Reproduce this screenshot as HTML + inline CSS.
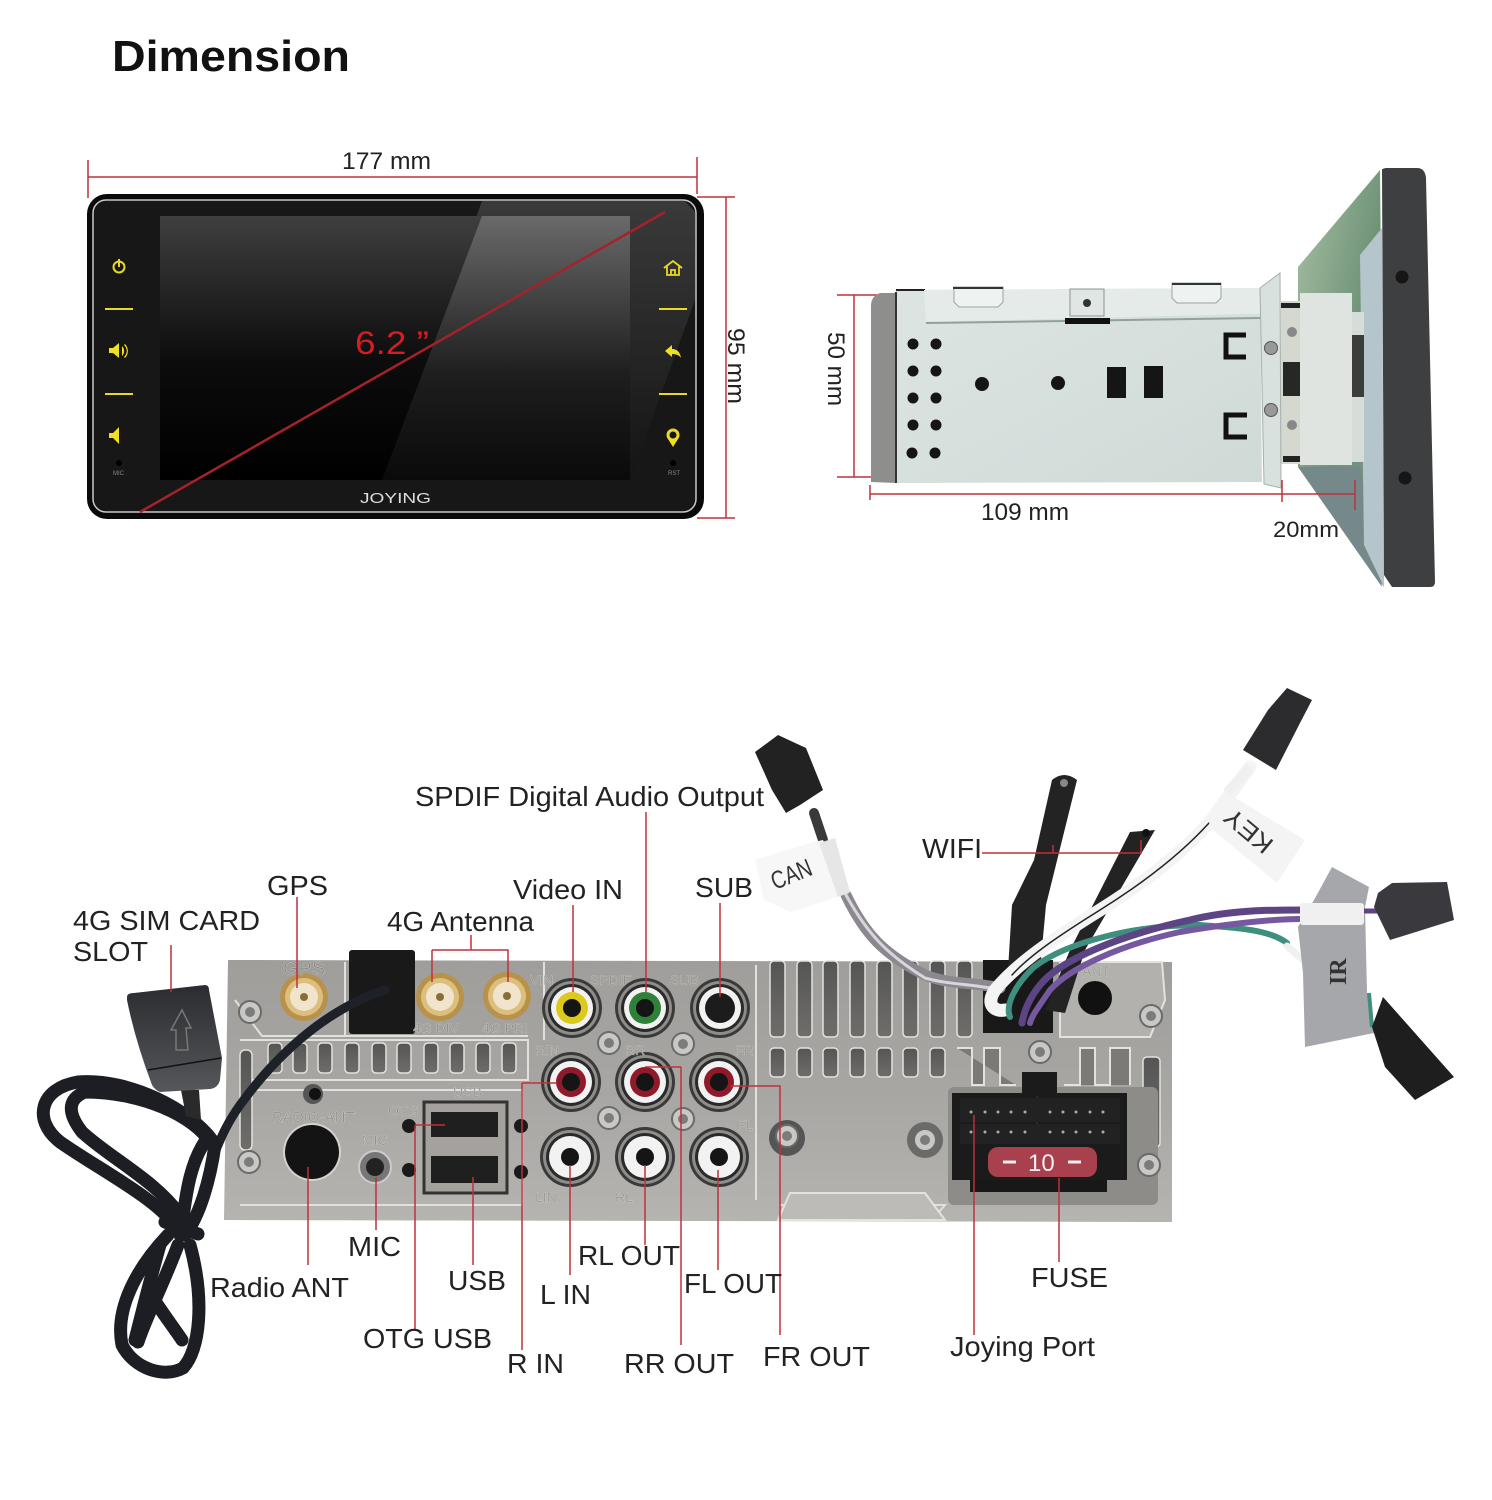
<!DOCTYPE html>
<html><head><meta charset="utf-8"><style>
html,body{margin:0;padding:0;background:#fff}
svg{display:block}
text{font-family:"Liberation Sans",sans-serif;fill:#222}
.l{font-size:28px}
.d{font-size:24px}
.r{stroke:#c0303c;stroke-width:1.5;fill:none}
.w{fill:none;stroke-linecap:round;stroke-linejoin:round}
.p{font-size:14px;fill:#8c8a86;stroke:#dedcd8;stroke-width:.3}
.s{fill:url(#slot);stroke:#e4e2de;stroke-width:1.5}
</style></head><body>
<svg xmlns="http://www.w3.org/2000/svg" width="1492" height="1500" viewBox="0 0 1492 1500">
<defs>
<linearGradient id="lcd" x1="0" y1="0" x2="0" y2="1"><stop offset="0" stop-color="#3f3f3f"/><stop offset=".55" stop-color="#0c0c0c"/><stop offset="1" stop-color="#000"/></linearGradient>
<linearGradient id="glare" x1="0" y1="0" x2="0" y2="1"><stop offset="0" stop-color="#6a6a6a"/><stop offset=".6" stop-color="#1e1e1e"/><stop offset="1" stop-color="#0a0a0a"/></linearGradient>
<linearGradient id="bez" x1="0" y1="0" x2="0" y2="1"><stop offset="0" stop-color="#3a3a3a"/><stop offset="1" stop-color="#141414"/></linearGradient>
<linearGradient id="panel" x1="0" y1="0" x2="0" y2="1"><stop offset="0" stop-color="#a09e9b"/><stop offset=".5" stop-color="#a8a6a3"/><stop offset="1" stop-color="#b6b4b1"/></linearGradient>
<linearGradient id="slot" x1="0" y1="0" x2="0" y2="1"><stop offset="0" stop-color="#555"/><stop offset="1" stop-color="#6e6d6a"/></linearGradient>
<linearGradient id="board" x1="0" y1="0" x2="1" y2="1"><stop offset="0" stop-color="#a6c0a4"/><stop offset=".55" stop-color="#6f9277"/><stop offset="1" stop-color="#7f938f"/></linearGradient>
<linearGradient id="metal" x1="0" y1="0" x2="1" y2="1"><stop offset="0" stop-color="#dde5e2"/><stop offset="1" stop-color="#cfdad7"/></linearGradient>
<linearGradient id="plug" x1="0" y1="0" x2="0" y2="1"><stop offset="0" stop-color="#2a2c30"/><stop offset="1" stop-color="#55575a"/></linearGradient>
<g id="rca"><circle r="30" fill="#3a3a3a"/><circle r="27" fill="#8e8d8a"/><circle r="24" fill="#2a2a2a"/><circle r="21" fill="#f2f2f2"/></g>
<g id="sma"><circle r="24" fill="#b8924a"/><circle r="19" fill="#dcbf7c"/><circle r="14" fill="#f0e4cc"/><circle r="4" fill="#8a6c35"/></g>
<g id="sc"><circle r="11" fill="#c8c8c6" stroke="#6a6a68" stroke-width="2"/><circle r="5" fill="#7c7c7a"/></g>
</defs>

<text x="112" y="71" font-size="44" font-weight="700" style="fill:#111" textLength="238" lengthAdjust="spacingAndGlyphs">Dimension</text>

<!-- dims front -->
<path class="r" d="M88 160V198M697 157V194M88 177H697M697 197H735M697 518H735M726 197V518"/>
<text x="342" y="169" class="d" textLength="89" lengthAdjust="spacingAndGlyphs">177 mm</text>
<text transform="translate(728,328) rotate(90)" class="d" textLength="76" lengthAdjust="spacingAndGlyphs">95 mm</text>

<!-- front unit -->
<rect x="87" y="194" width="617" height="325" rx="20" fill="#0a0a0a"/>
<rect x="93" y="200" width="603" height="312" rx="13" fill="#171717" stroke="#c8c8c8" stroke-width="1.5"/>
<polygon points="482,201 685,201 695,212 695,300 630,480 382,480" fill="url(#bez)"/>
<rect x="160" y="216" width="470" height="264" fill="url(#lcd)"/>
<polygon points="482,216 630,216 630,480 382,480" fill="url(#glare)"/>
<path d="M140 512L665 212" stroke="#a5222a" stroke-width="2.5"/>
<text x="355" y="354" font-size="32" style="fill:#d51d24" textLength="74" lengthAdjust="spacingAndGlyphs">6.2 ”</text>
<text x="360" y="503" font-size="15" style="fill:#ddd" textLength="71" lengthAdjust="spacingAndGlyphs">JOYING</text>
<g stroke="#e8d828" fill="none">
<path stroke-width="2" d="M105 309H133M105 394H133M659 309H687M659 394H687"/>
<circle cx="119" cy="267" r="5.5" stroke-width="2"/><path d="M119 259V267" stroke-width="2"/>
<path stroke-width="1.8" d="M664 268L673 261L682 268M667 266V275H679V266M671 275V270H675V275"/>
<circle cx="673" cy="435" r="5" stroke-width="3"/>
</g>
<g fill="#f0e020">
<path d="M109 348h4l6-5v15l-6-5h-4z"/><path d="M109 433h4l6-6v17l-6-6h-4z"/>
<path d="M122 346a7 7 0 0 1 0 10zM125 344a10 10 0 0 1 0 14l-1-1a8 8 0 0 0 0-12z"/>
<path d="M665 351l7-6v4c5 0 8 3 9 9-2-3-5-4-9-4v3z"/>
<path d="M668 439l5 8 5-8z"/>
</g>
<circle cx="119" cy="463" r="3" fill="#000"/><circle cx="673" cy="463" r="3" fill="#000"/>
<text x="113" y="475" font-size="6" style="fill:#888">MIC</text><text x="668" y="475" font-size="6" style="fill:#888">RST</text>

<!-- side view -->
<text transform="translate(828,332) rotate(90)" class="d" textLength="74" lengthAdjust="spacingAndGlyphs">50 mm</text>
<path class="r" d="M837 295H880M837 477H880M854 295V477"/>
<path d="M896 293L880 293Q871 296 871 306V482L896 483Z" fill="#8e8e8c"/>
<polygon points="896,290 1260,288 1262,482 896,483" fill="url(#metal)"/>
<path d="M896 292L896 483" stroke="#333" stroke-width="2"/>
<path d="M896 290H925" stroke="#222" stroke-width="2"/>
<polygon points="924,290 1260,288 1260,314 1248,314 926,322" fill="#e4ebe8"/>
<path d="M926 323L1065 321L1260 318" stroke="#93a09c" stroke-width="2" fill="none"/>
<path d="M954 287H1003V302L998 307H959L954 302Z M1172 283H1221V298L1216 303H1177L1172 298Z" fill="#eef2f0" stroke="#9aa5a2"/>
<path d="M953 288H1003M1172 284H1221" stroke="#333" stroke-width="2"/>
<rect x="1070" y="289" width="34" height="27" fill="#dfe6e3" stroke="#8a9491"/>
<circle cx="1087" cy="303" r="4" fill="#333"/>
<rect x="1065" y="318" width="45" height="6" fill="#111"/>
<g fill="#151515">
<circle cx="913" cy="344" r="5.5"/><circle cx="936" cy="344" r="5.5"/><circle cx="913" cy="371" r="5.5"/><circle cx="936" cy="371" r="5.5"/><circle cx="913" cy="398" r="5.5"/><circle cx="936" cy="398" r="5.5"/><circle cx="913" cy="425" r="5.5"/><circle cx="936" cy="425" r="5.5"/><circle cx="912" cy="453" r="5.5"/><circle cx="935" cy="453" r="5.5"/>
<circle cx="982" cy="384" r="7"/><circle cx="1058" cy="383" r="7"/>
<rect x="1107" y="367" width="19" height="31"/><rect x="1144" y="366" width="19" height="32"/>
</g>
<path d="M1246 335H1226V357H1246M1247 415H1226V437H1247" fill="none" stroke="#111" stroke-width="5"/>
<!-- back board -->
<polygon points="1298,267 1380,170 1384,587 1298,467" fill="url(#board)"/>
<polygon points="1298,467 1360,467 1382,587" fill="#75888a"/>
<polygon points="1360,255 1382,228 1384,587 1364,545" fill="#b4c6cc"/>
<rect x="1350" y="312" width="14" height="150" fill="#d6ddd9"/>
<rect x="1350" y="335" width="14" height="62" fill="#3a3d3a"/>
<rect x="1281" y="301" width="22" height="163" fill="#d4d8cf"/>
<rect x="1283" y="362" width="20" height="34" fill="#252825"/>
<rect x="1281" y="303" width="20" height="5" fill="#222"/>
<rect x="1283" y="456" width="20" height="6" fill="#222"/>
<polygon points="1300,293 1352,293 1352,465 1300,465" fill="#dfe4e1"/>
<polygon points="1260,288 1280,273 1281,488 1264,484" fill="#d9e1de" stroke="#a4aeab"/>
<circle cx="1271" cy="348" r="6.5" fill="#999" stroke="#555"/><circle cx="1271" cy="410" r="6.5" fill="#999" stroke="#555"/>
<circle cx="1292" cy="332" r="5" fill="#888"/><circle cx="1292" cy="425" r="5" fill="#888"/>
<path d="M1382 170Q1381 169 1386 168H1417Q1425 168 1426 178L1435 582Q1435 587 1430 587H1392L1384 575Z" fill="#3d3f40"/>
<circle cx="1402" cy="277" r="6.5" fill="#161616"/><circle cx="1405" cy="478" r="6.5" fill="#161616"/>
<path class="r" d="M870 485V500M1282 480V502M1355 480V510M870 494H1355"/>
<text x="981" y="520" class="d" textLength="88" lengthAdjust="spacingAndGlyphs">109 mm</text>
<text x="1273" y="537" font-size="22" textLength="66" lengthAdjust="spacingAndGlyphs">20mm</text>

<!-- bottom panel -->
<polygon points="228,960 1172,962 1172,1222 224,1220" fill="url(#panel)"/>
<path d="M240 1040H528V1080H240M345 962V1036H528M235 1000L262 1036H345M242 1090H522V1205H240M780 1205H945L930 1222M544 962V1040M756 965V1200" fill="none" stroke="#e2e0dc" stroke-width="2"/>
<polygon points="778,1220 790,1193 925,1193 945,1220" fill="#bdbbb8" stroke="#e4e2de" stroke-width="2"/>
<rect x="240" y="1050" width="12" height="100" rx="5" class="s"/>
<g class="s">
<rect class="s" x="268" y="1043" width="14" height="30" rx="4"/><rect class="s" x="293" y="1043" width="14" height="30" rx="4"/><rect class="s" x="318" y="1043" width="14" height="30" rx="4"/><rect class="s" x="345" y="1043" width="14" height="30" rx="4"/><rect class="s" x="372" y="1043" width="14" height="30" rx="4"/><rect class="s" x="397" y="1043" width="14" height="30" rx="4"/><rect class="s" x="424" y="1043" width="14" height="30" rx="4"/><rect class="s" x="450" y="1043" width="14" height="30" rx="4"/><rect class="s" x="476" y="1043" width="14" height="30" rx="4"/><rect class="s" x="502" y="1043" width="14" height="30" rx="4"/>
<rect class="s" x="770" y="961" width="15" height="76" rx="4"/><rect class="s" x="797" y="961" width="15" height="76" rx="4"/><rect class="s" x="823" y="961" width="15" height="76" rx="4"/><rect class="s" x="850" y="961" width="15" height="76" rx="4"/><rect class="s" x="877" y="961" width="15" height="76" rx="4"/><rect class="s" x="903" y="961" width="15" height="76" rx="4"/><rect class="s" x="930" y="961" width="15" height="76" rx="4"/><rect class="s" x="957" y="961" width="15" height="76" rx="4"/>
<rect class="s" x="770" y="1048" width="15" height="29" rx="4"/><rect class="s" x="797" y="1048" width="15" height="29" rx="4"/><rect class="s" x="823" y="1048" width="15" height="29" rx="4"/><rect class="s" x="850" y="1048" width="15" height="29" rx="4"/><rect class="s" x="877" y="1048" width="15" height="29" rx="4"/><rect class="s" x="903" y="1048" width="15" height="29" rx="4"/><rect class="s" x="930" y="1048" width="15" height="29" rx="4"/>
<rect class="s" x="1143" y="1057" width="17" height="90" rx="4"/>
</g>
<path d="M957 1048H972V1085H984V1048H1000V1085H1016M1064 1085H1080V1048H1095V1085H1110V1048H1130V1085" fill="#7b7a77" stroke="#e4e2de" stroke-width="2"/>
<path d="M1060 962H1162L1165 1000L1150 1037H1060Z" fill="#b3b1ad" stroke="#e4e2de" stroke-width="2"/>
<!-- port -->
<rect x="948" y="1087" width="210" height="118" rx="6" fill="#8e8c88"/>
<path d="M970 1180H1107V1192H970Z" fill="#181818"/>
<rect x="952" y="1093" width="175" height="87" fill="#1b1b1b"/>
<rect x="1022" y="1072" width="35" height="22" fill="#1b1b1b"/>
<path d="M1037 1096V1125" stroke="#3a3a3a"/>
<rect x="960" y="1098" width="160" height="24" fill="#222"/>
<rect x="960" y="1124" width="160" height="20" fill="#222"/>
<g fill="#aaa"><circle cx="971" cy="1112" r="1.5"/><circle cx="985" cy="1112" r="1.5"/><circle cx="998" cy="1112" r="1.5"/><circle cx="1011" cy="1112" r="1.5"/><circle cx="1025" cy="1112" r="1.5"/><circle cx="1050" cy="1112" r="1.5"/><circle cx="1063" cy="1112" r="1.5"/><circle cx="1076" cy="1112" r="1.5"/><circle cx="1090" cy="1112" r="1.5"/><circle cx="1103" cy="1112" r="1.5"/><circle cx="971" cy="1132" r="1.5"/><circle cx="985" cy="1132" r="1.5"/><circle cx="998" cy="1132" r="1.5"/><circle cx="1011" cy="1132" r="1.5"/><circle cx="1025" cy="1132" r="1.5"/><circle cx="1050" cy="1132" r="1.5"/><circle cx="1063" cy="1132" r="1.5"/><circle cx="1076" cy="1132" r="1.5"/><circle cx="1090" cy="1132" r="1.5"/><circle cx="1103" cy="1132" r="1.5"/></g>
<rect x="988" y="1147" width="109" height="30" rx="10" fill="#a8404e"/>
<text x="1028" y="1171" font-size="24" style="fill:#eee">10</text>
<path d="M1003 1162h13M1068 1162h13" stroke="#eee" stroke-width="3"/>
<rect x="983" y="960" width="70" height="73" fill="#191919"/>
<circle cx="1095" cy="998" r="17" fill="#111"/>
<use href="#sma" x="304" y="997"/><use href="#sma" x="440" y="997"/><use href="#sma" x="507" y="996"/>
<rect x="349" y="950" width="66" height="84" rx="3" fill="#191919"/>
<use href="#rca" x="572" y="1008"/><circle cx="572" cy="1008" r="16" fill="#ddc91c"/><circle cx="572" cy="1008" r="9" fill="#151515"/>
<use href="#rca" x="645" y="1008"/><circle cx="645" cy="1008" r="16" fill="#2f8038"/><circle cx="645" cy="1008" r="9" fill="#151515"/>
<use href="#rca" x="720" y="1008"/><circle cx="720" cy="1008" r="15" fill="#1c1c1c"/>
<use href="#rca" x="571" y="1082"/><circle cx="571" cy="1082" r="15" fill="#8e1a2a"/><circle cx="571" cy="1082" r="9" fill="#151515"/>
<use href="#rca" x="645" y="1082"/><circle cx="645" cy="1082" r="15" fill="#8e1a2a"/><circle cx="645" cy="1082" r="9" fill="#151515"/>
<use href="#rca" x="719" y="1082"/><circle cx="719" cy="1082" r="15" fill="#8e1a2a"/><circle cx="719" cy="1082" r="9" fill="#151515"/>
<use href="#rca" x="570" y="1157"/><circle cx="570" cy="1157" r="9" fill="#151515"/>
<use href="#rca" x="645" y="1157"/><circle cx="645" cy="1157" r="9" fill="#151515"/>
<use href="#rca" x="719" y="1157"/><circle cx="719" cy="1157" r="9" fill="#151515"/>
<use href="#sc" x="250" y="1012"/><use href="#sc" x="249" y="1162"/><use href="#sc" x="1151" y="1016"/><use href="#sc" x="1149" y="1165"/><use href="#sc" x="609" y="1043"/><use href="#sc" x="683" y="1044"/><use href="#sc" x="609" y="1118"/><use href="#sc" x="683" y="1119"/><circle cx="787" cy="1138" r="18" fill="#555"/><use href="#sc" x="787" y="1136"/><circle cx="925" cy="1140" r="18" fill="#6a6a68"/><use href="#sc" x="925" y="1140"/><use href="#sc" x="1040" y="1052"/>
<circle cx="312" cy="1152" r="29" fill="#d5d3d0"/><circle cx="312" cy="1152" r="27" fill="#141414"/>
<circle cx="375" cy="1167" r="16" fill="#777" stroke="#ccc" stroke-width="2"/><circle cx="375" cy="1167" r="9" fill="#222"/>
<circle cx="313" cy="1094" r="10" fill="#555"/><circle cx="315" cy="1094" r="6" fill="#111"/>
<rect x="424" y="1102" width="83" height="91" fill="#a5a29e" stroke="#333" stroke-width="3"/>
<rect x="431" y="1112" width="67" height="25" fill="#1f1f1f"/><rect x="431" y="1156" width="67" height="27" fill="#1f1f1f"/>
<g fill="#1a1a1a"><circle cx="409" cy="1126" r="7"/><circle cx="409" cy="1170" r="7"/><circle cx="521" cy="1126" r="7"/><circle cx="521" cy="1172" r="7"/></g>
<text x="283" y="975" class="p" style="font-size:20px">GPS</text>
<text x="413" y="1033" class="p">4G DIV</text><text x="482" y="1033" class="p">4G PRI</text>
<text x="530" y="985" class="p">VIN</text><text x="590" y="985" class="p">SPDIF</text><text x="670" y="985" class="p">SUB</text>
<text x="535" y="1055" class="p">RIN</text><text x="625" y="1055" class="p">RR</text><text x="735" y="1055" class="p">FR</text><text x="737" y="1130" class="p">FL</text>
<text x="535" y="1202" class="p">LIN</text><text x="615" y="1202" class="p">RL</text>
<text x="272" y="1122" class="p" style="font-size:15px">RADIO-ANT</text><text x="362" y="1145" class="p">MIC</text><text x="388" y="1116" class="p">OTG</text><text x="453" y="1097" class="p">USB</text><text x="1082" y="976" class="p">ANT</text>

<!-- sim cable -->
<path class="w" d="M385 990C330 1008 280 1050 240 1105C228 1122 222 1135 216 1150" stroke="#1f2128" stroke-width="9"/>
<g class="w" stroke="#1c1e24" stroke-width="13">
<path d="M212 1140C190 1110 130 1078 78 1082C40 1088 32 1120 60 1142C100 1170 160 1200 178 1230"/>
<path d="M212 1145C195 1115 140 1092 85 1092C70 1098 65 1110 82 1132C110 1158 155 1180 180 1215"/>
<path d="M206 1140C185 1170 185 1215 180 1235"/>
<path d="M215 1145C210 1180 200 1215 185 1235"/>
<path d="M165 1222L198 1234"/>
<path d="M168 1235C135 1270 115 1310 122 1345C135 1370 165 1378 183 1368C200 1350 205 1300 190 1245"/>
<path d="M178 1245C165 1280 145 1320 138 1342"/>
<path d="M148 1290C160 1310 172 1325 182 1340"/>
<path d="M160 1245C150 1280 140 1320 135 1340"/>
</g>
<path d="M181 1090H199L201 1120L186 1116Z" fill="#2a2a2a"/>
<path d="M127 997Q127 993 134 993L205 985Q209 985 209 990L222 1058L220 1080Q218 1088 210 1089L160 1092Q155 1090 152 1085Q135 1040 127 1000Z" fill="url(#plug)"/>
<path d="M148 1070L221 1058" stroke="#111" stroke-width="1.5"/>
<path d="M176 1050V1030H171L182 1010L191 1028H186L188 1050Z" fill="none" stroke="#777" stroke-width="1.5"/>

<!-- wires -->
<polygon points="1130,832 1155,830 1085,950 1065,1013 1045,1010 1070,950" fill="#232323"/>
<path d="M1052 780Q1064 770 1077 780L1046 905L1040 970H1008L1012 905L1034 860Z" fill="#232323"/>
<circle cx="1064" cy="783" r="4" fill="#888"/>
<circle cx="1146" cy="833" r="4" fill="#111"/>
<path class="w" d="M814 813L823 840" stroke="#3a3a3a" stroke-width="10"/>
<path class="w" d="M846 895C865 935 885 955 925 975C950 985 975 982 1000 988" stroke="#8c8890" stroke-width="11"/>
<path class="w" d="M846 895C868 935 888 955 925 978C950 985 975 984 1000 990" stroke="#d8d6da" stroke-width="3"/>
<path class="w" d="M1250 767L1209 823C1180 855 1140 885 1100 910C1060 935 1020 960 995 990C985 1005 995 1012 1005 1010" stroke="#f4f4f4" stroke-width="13"/>
<path class="w" d="M1209 823C1180 855 1140 885 1100 910C1060 935 1030 955 1012 975" stroke="#222" stroke-width="1.5"/>
<path class="w" d="M1287 943C1270 930 1240 928 1200 925C1140 925 1070 940 1034 967C1015 985 1005 1005 1010 1017" stroke="#3e8f7e" stroke-width="6"/>
<path class="w" d="M1287 946L1303 960" stroke="#f0f0f0" stroke-width="7"/>
<path class="w" d="M1300 910C1270 910 1230 910 1190 920C1120 935 1060 960 1040 985C1028 1000 1024 1012 1022 1023" stroke="#5d4585" stroke-width="7"/>
<path class="w" d="M1300 919C1270 919 1220 925 1180 932C1120 945 1070 968 1050 990C1040 1005 1032 1015 1030 1023" stroke="#7558a0" stroke-width="6"/>
<path d="M755 752L778 735L806 748L823 790L800 805L786 813L772 790Z" fill="#222"/>
<polygon points="755,860 810,843 823,840 849,893 837,897 791,912 764,900" fill="#f7f7f7"/>
<polygon points="819,843 835,838 850,892 838,897" fill="#e6e6e6"/>
<path d="M1287 688L1312 700L1300 723L1276 770L1243 750L1268 710Z" fill="#2c2c2e"/>
<polygon points="1209,823 1227,793 1305,840 1277,883 1213,830" fill="#f4f4f4"/>
<path d="M1227 793L1250 767" stroke="#f0f0f0" stroke-width="10"/>
<polygon points="1314,900 1332,867 1369,887 1365,907 1367,993 1374,1033 1305,1047 1303,973 1298,927" fill="#a6a7ab"/>
<path d="M1362 911L1385 911" stroke="#5d4585" stroke-width="5"/>
<rect x="1300" y="903" width="64" height="22" rx="3" fill="#f0f0f0"/>
<polygon points="1374,907 1378,893 1392,883 1447,882 1454,920 1390,940" fill="#3a3a3e"/>
<path d="M1369 993L1372 1027" stroke="#3e8f7e" stroke-width="4"/>
<polygon points="1372,1027 1383,997 1454,1077 1415,1100 1385,1067" fill="#1e1e1e"/>
<text transform="translate(775,890) rotate(-22)" font-size="25" style="fill:#333" textLength="42" lengthAdjust="spacingAndGlyphs">CAN</text>
<text transform="translate(1275,842) rotate(220)" font-size="25" style="fill:#333" textLength="55" lengthAdjust="spacingAndGlyphs">KEY</text>
<text transform="translate(1346,985) rotate(-90)" font-size="24" font-weight="700" style="font-family:'Liberation Serif',serif;fill:#333">IR</text>

<!-- leaders -->
<path class="r" d="M171 945V992M297 897V988M432 950H508V982M432 950V982M471 935V950M573 905V992M646 812V992M720 903V997M982 853H1141V840M1053 853V845M522 1083V1350M522 1083H557M415 1125V1330M415 1125H445M473 1177V1265M376 1177V1230M308 1167V1265M570 1165V1275M645 1165V1245M718 1170V1270M681 1067V1345M645 1067H681M730 1086H780V1335M974 1115V1335M1059 1178V1262"/>

<!-- labels -->
<text x="415" y="806" class="l" textLength="349" lengthAdjust="spacingAndGlyphs">SPDIF Digital Audio Output</text>
<text x="922" y="858" class="l" textLength="60" lengthAdjust="spacingAndGlyphs">WIFI</text>
<text x="267" y="895" class="l" textLength="61" lengthAdjust="spacingAndGlyphs">GPS</text>
<text x="513" y="899" class="l" textLength="110" lengthAdjust="spacingAndGlyphs">Video IN</text>
<text x="695" y="897" class="l" textLength="58" lengthAdjust="spacingAndGlyphs">SUB</text>
<text x="73" y="930" class="l" textLength="187" lengthAdjust="spacingAndGlyphs">4G SIM CARD</text>
<text x="73" y="961" class="l" textLength="75" lengthAdjust="spacingAndGlyphs">SLOT</text>
<text x="387" y="931" class="l" textLength="147" lengthAdjust="spacingAndGlyphs">4G Antenna</text>
<text x="348" y="1256" class="l" textLength="53" lengthAdjust="spacingAndGlyphs">MIC</text>
<text x="210" y="1297" class="l" textLength="139" lengthAdjust="spacingAndGlyphs">Radio ANT</text>
<text x="448" y="1290" class="l" textLength="58" lengthAdjust="spacingAndGlyphs">USB</text>
<text x="578" y="1265" class="l" textLength="102" lengthAdjust="spacingAndGlyphs">RL OUT</text>
<text x="540" y="1304" class="l" textLength="51" lengthAdjust="spacingAndGlyphs">L IN</text>
<text x="684" y="1293" class="l" textLength="98" lengthAdjust="spacingAndGlyphs">FL OUT</text>
<text x="1031" y="1287" class="l" textLength="77" lengthAdjust="spacingAndGlyphs">FUSE</text>
<text x="363" y="1348" class="l" textLength="129" lengthAdjust="spacingAndGlyphs">OTG USB</text>
<text x="507" y="1373" class="l" textLength="57" lengthAdjust="spacingAndGlyphs">R IN</text>
<text x="624" y="1373" class="l" textLength="110" lengthAdjust="spacingAndGlyphs">RR OUT</text>
<text x="763" y="1366" class="l" textLength="107" lengthAdjust="spacingAndGlyphs">FR OUT</text>
<text x="950" y="1356" class="l" textLength="145" lengthAdjust="spacingAndGlyphs">Joying Port</text>
</svg>
</body></html>
